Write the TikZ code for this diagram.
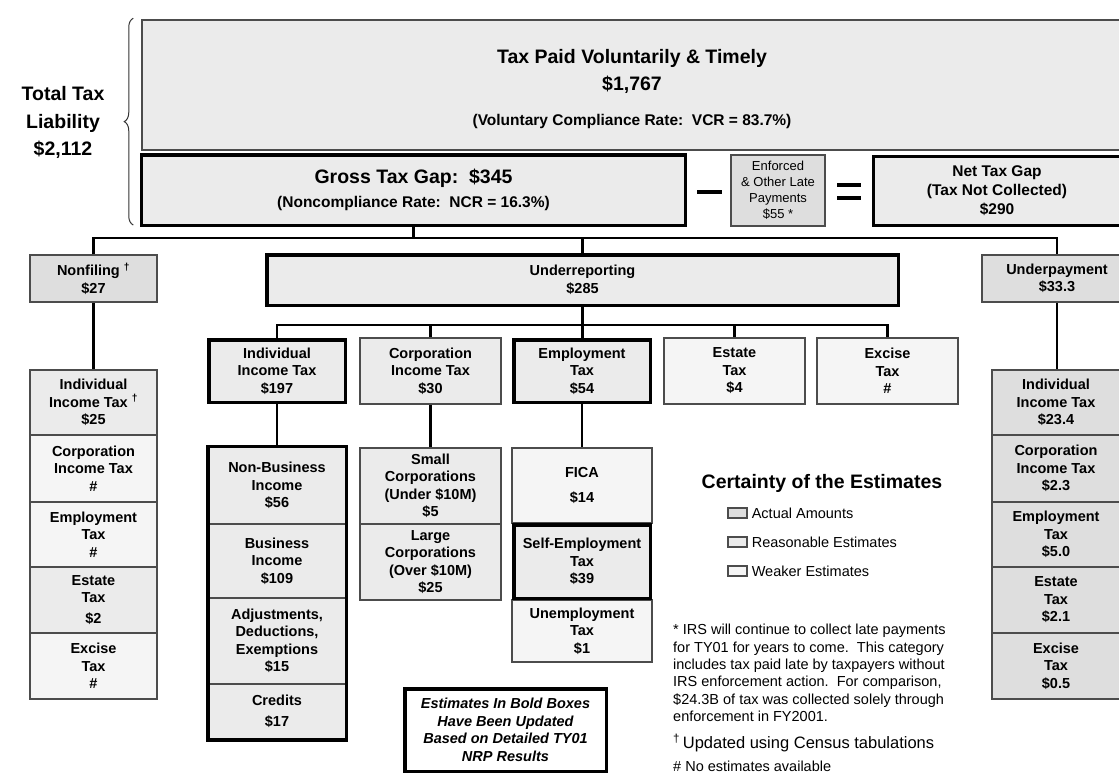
\documentclass[tikz,border=0pt]{standalone}
\usepackage{fontspec}
\setmainfont{Liberation Sans}
\usetikzlibrary{decorations.pathreplacing,calc}
\colorlet{actualfill}{black!13}
\colorlet{reasonfill}{black!8}
\colorlet{weakfill}{black!4}
\newcommand{\cellfont}{\fontsize{14.5}{17.5}\selectfont\bfseries}
\newcommand{\titlefont}{\fontsize{19.5}{27}\selectfont\bfseries}
\newcommand{\subfont}{\fontsize{15.5}{19}\selectfont\bfseries}
\newcommand{\notefont}{\fontsize{14.5}{17.4}\selectfont}

\begin{document}
\begin{tikzpicture}[x=1pt,y=-1pt,line join=miter,
  cell/.style 2 args={draw=black!70,line width=1.5pt,fill=reasonfill,inner sep=0pt,
    minimum width=#1,minimum height=#2,align=center,font=\cellfont},
  bold/.style={draw=black,line width=3.5pt},
  actual/.style={fill=actualfill},
  weaker/.style={fill=weakfill},
  link/.style={line width=2.8pt,black}]
\useasboundingbox (0,0) rectangle (1119,776);

\node[cell={980}{130},font=\titlefont] (paid) at (632,85)
  {\rule{0pt}{22pt}Tax Paid Voluntarily \& Timely\\\$1,767\\[7.5pt]\subfont (Voluntary Compliance Rate:\ \ VCR = 83.7\%)};
\node[cell={544}{70.5},bold,font={\fontsize{19.5}{23.5}\selectfont\bfseries}] (gross) at (413.5,190)
  {Gross Tax Gap:\ \ \$345\\\subfont (Noncompliance Rate:\ \ NCR = 16.3\%)};
\node[cell={94}{71},actual,line width=1.2pt,font={\fontsize{13}{16}\selectfont}] (enforced) at (778,190.5)
  {Enforced\\\& Other Late\\Payments\\\$55 *};
\node[cell={247}{69},bold,font=\subfont] (net) at (997,191)
  {Net Tax Gap\\(Tax Not Collected)\\\$290};
\draw[line width=4pt] (697,192) -- (722,192);
\draw[line width=4pt] (837,185) -- (861,185);
\draw[line width=4pt] (837,198) -- (861,198);

\node[align=center,font={\fontsize{19.5}{27.5}\selectfont\bfseries}] (total) at (63,122.5)
  {Total Tax\\Liability\\\$2,112};
\draw[decorate,decoration={brace,amplitude=9pt},line width=1pt,black!80]
  ($(paid.north west |- gross.south west)+(-8,-2)$) -- ($(paid.north west)+(-8,-1)$);

\node[cell={127}{47},actual] (nonfil) at (93.5,278.5) {Nonfiling~\textsuperscript{†}\\\$27};
\node[cell={631.5}{50.5},bold] (underrep) at (582.5,280) {Underreporting\\\$285};
\node[cell={150}{47},actual] (underpay) at (1057,278.5) {Underpayment\\\$33.3};

\node[cell={136.5}{62.5},bold] (indiv) at (277,371) {Individual\\Income Tax\\\$197};
\node[cell={141}{66}] (corp) at (430.5,371) {Corporation\\Income Tax\\\$30};
\node[cell={136.5}{62.5},bold] (employ) at (582,371) {Employment\\Tax\\\$54};
\node[cell={141}{66},weaker] (estate) at (734.5,371) {Estate\\Tax\\\$4};
\node[cell={141}{66},weaker] (excise) at (887.5,371) {Excise\\Tax\\\#};

\node[cell={127}{65}] (lindiv) at (93.5,402.5) {Individual\\Income Tax~\textsuperscript{†}\\\$25};
\node[cell={127}{67},weaker] (lcorp) at (93.5,468.5) {Corporation\\Income Tax\\\#};
\node[cell={127}{65},weaker] (lemploy) at (93.5,534.5) {Employment\\Tax\\\#};
\node[cell={127}{66}] (lestate) at (93.5,600) {Estate\\Tax\\[3.5pt]\$2};
\node[cell={127}{66},weaker] (lexcise) at (93.5,666) {Excise\\Tax\\\#};

\node[cell={128}{65},actual] (rindiv) at (1056,402.5) {Individual\\Income Tax\\\$23.4};
\node[cell={128}{67},actual] (rcorp) at (1056,468.5) {Corporation\\Income Tax\\\$2.3};
\node[cell={128}{65},actual] (remploy) at (1056,534.5) {Employment\\Tax\\\$5.0};
\node[cell={128}{66},actual] (restate) at (1056,600) {Estate\\Tax\\\$2.1};
\node[cell={128}{66},actual] (rexcise) at (1056,666) {Excise\\Tax\\\$0.5};

\node[cell={137}{77}] (nonbus) at (277,485.5) {Non-Business\\Income\\\$56};
\node[cell={137}{74}] (bus) at (277,561) {Business\\Income\\\$109};
\node[cell={137}{86}] (adjust) at (277,641) {Adjustments,\\Deductions,\\Exemptions\\\$15};
\node[cell={137}{55}] (credits) at (277,711.5) {Credits\\[3.5pt]\$17};
\draw[bold] (nonbus.north west) rectangle (credits.south east);

\node[cell={141}{76}] (smallc) at (430.5,486) {Small\\Corporations\\(Under \$10M)\\\$5};
\node[cell={141}{76}] (largec) at (430.5,562) {Large\\Corporations\\(Over \$10M)\\\$25};

\node[cell={140}{75},weaker] (fica) at (582,485.5) {FICA\\[7.5pt]\$14};
\node[cell={140}{62},weaker] (unemp) at (582,631) {Unemployment\\Tax\\\$1};
\node[cell={136.5}{73.5},bold] (selfemp) at (582,561.5) {Self-Employment\\Tax\\\$39};

\node[cell={201.5}{82.5},bold,fill=white,font={\fontsize{14.5}{17.5}\selectfont\bfseries\itshape}] (updated) at (505.5,730)
  {Estimates In Bold Boxes\\Have Been Updated\\Based on Detailed TY01\\NRP Results};

\coordinate (trunk) at (413.5,238);
\coordinate (branch) at (583,325);
\draw[link] (gross.south) -- (trunk);
\draw[link] (nonfil.north) -- (nonfil.north |- trunk) -- (underpay.north |- trunk) -- (underpay.north);
\draw[link] (underrep.north |- trunk) -- (underrep.north);
\draw[link] (indiv.north) -- (indiv.north |- branch) -- (excise.north |- branch) -- (excise.north);
\draw[link] (underrep.south) -- (underrep.south |- employ.north);
\draw[link] (corp.north |- branch) -- (corp.north);
\draw[link] (estate.north |- branch) -- (estate.north);
\draw[link] (nonfil.south) -- (lindiv.north);
\draw[link] (underpay.south) -- (underpay.south |- rindiv.north);
\draw[link] (indiv.south) -- (nonbus.north);
\draw[link] (corp.south) -- (smallc.north);
\draw[link] (employ.south) -- (fica.north);

\node[font={\fontsize{19.5}{23}\selectfont\bfseries}] (certainty) at (822,483) {Certainty of the Estimates};
\node[cell={19}{10},actual,line width=1.2pt] (keyA) at (737.5,513) {};
\node[cell={19}{10},line width=1.2pt] (keyR) at (737.5,542) {};
\node[cell={19}{10},weaker,line width=1.2pt] (keyW) at (737.5,571) {};
\node[anchor=west,inner sep=0pt,font=\notefont] (labA) at ($(keyA.east)+(4,0)$) {Actual Amounts};
\node[anchor=west,inner sep=0pt,font=\notefont] (labR) at ($(keyR.east)+(4,0)$) {Reasonable Estimates};
\node[anchor=west,inner sep=0pt,font=\notefont] (labW) at ($(keyW.east)+(4,0)$) {Weaker Estimates};

\node[anchor=north west,inner sep=0pt,align=left,font=\notefont] (latenote) at (673,624)
  {* IRS will continue to collect late payments\\
   for TY01 for years to come.\ \ This category\\
   includes tax paid late by taxpayers without\\
   IRS enforcement action.\ \ For comparison,\\
   \$24.3B of tax was collected solely through\\
   enforcement in FY2001.};
\node[anchor=base west,inner sep=0pt,font={\fontsize{16.5}{19}\selectfont}] (censusnote) at (673,748.5)
  {\textsuperscript{†}\,Updated using Census tabulations};
\node[anchor=base west,inner sep=0pt,font=\notefont] (nonote) at (673,771.5) {\# No estimates available};
\end{tikzpicture}
\end{document}
